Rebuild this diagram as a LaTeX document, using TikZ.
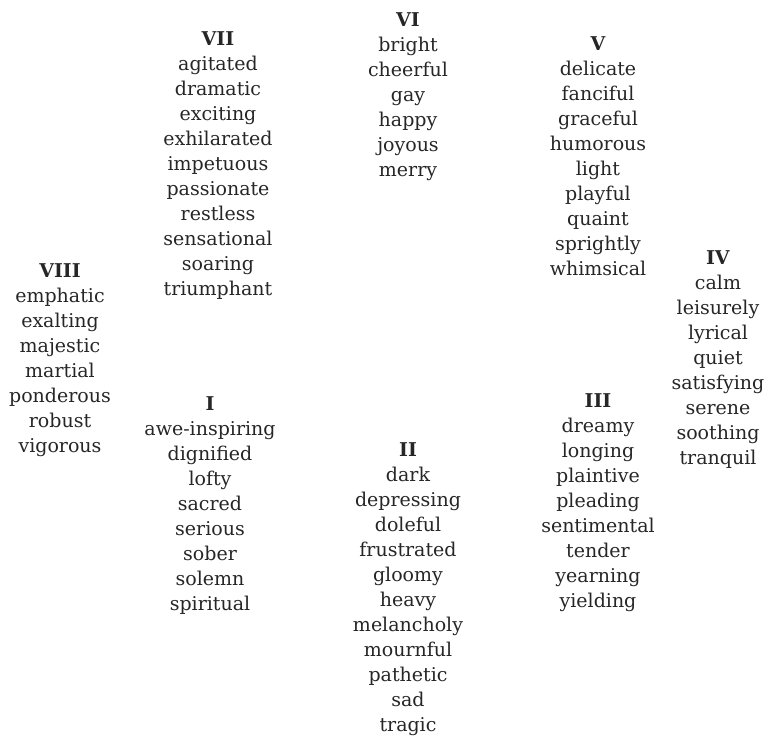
\documentclass[tikz,border=0pt]{standalone}
\usepackage{fontspec}
\setmainfont{DejaVu Serif}
\definecolor{ink}{HTML}{262626}
\begin{document}
\begin{tikzpicture}[x=1pt,y=-1pt,
  grp/.style={anchor=north,align=center,inner sep=0pt,text=ink,
    font=\fontsize{19}{25}\selectfont}]
\useasboundingbox (0,0) rectangle (771,743);
\node (g8) [grp] at (60,263) {\textbf{VIII}\\emphatic\\exalting\\majestic\\martial\\ponderous\\robust\\vigorous};
\node (g7) [grp] at (218,31) {\textbf{VII}\\agitated\\dramatic\\exciting\\exhilarated\\impetuous\\passionate\\restless\\sensational\\soaring\\triumphant};
\node (g6) [grp] at (408,12) {\textbf{VI}\\bright\\cheerful\\gay\\happy\\joyous\\merry};
\node (g5) [grp] at (598,36) {\textbf{V}\\delicate\\fanciful\\graceful\\humorous\\light\\playful\\quaint\\sprightly\\whimsical};
\node (g4) [grp] at (718,250) {\textbf{IV}\\calm\\leisurely\\lyrical\\quiet\\satisfying\\serene\\soothing\\tranquil};
\node (g3) [grp] at (598,393) {\textbf{III}\\dreamy\\longing\\plaintive\\pleading\\sentimental\\tender\\yearning\\yielding};
\node (g2) [grp] at (408,442) {\textbf{II}\\dark\\depressing\\doleful\\frustrated\\gloomy\\heavy\\melancholy\\mournful\\pathetic\\sad\\tragic};
\node (g1) [grp] at (210,396) {\textbf{I}\\awe-inspiring\\dignified\\lofty\\sacred\\serious\\sober\\solemn\\spiritual};
\end{tikzpicture}
\end{document}
